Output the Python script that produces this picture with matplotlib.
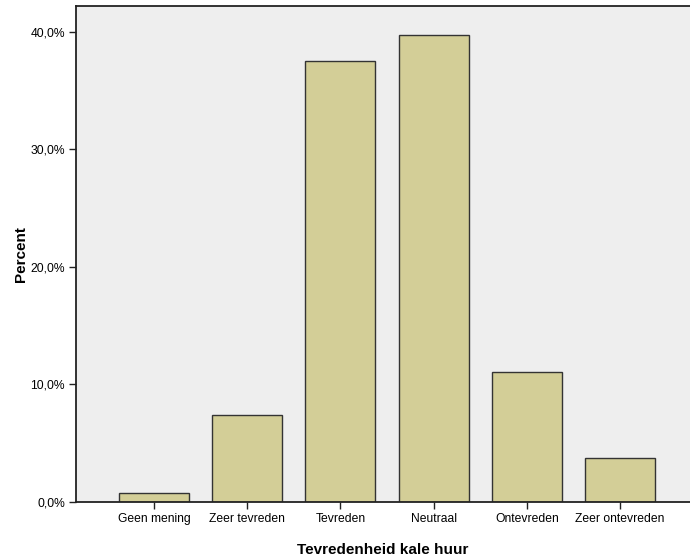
import matplotlib
matplotlib.use("Agg")
import matplotlib.pyplot as plt

categories = ["Geen mening", "Zeer tevreden", "Tevreden", "Neutraal", "Ontevreden", "Zeer ontevreden"]
percent = [0.8, 7.4, 37.5, 39.7, 11.1, 3.7]
yticks = [0, 10, 20, 30, 40]
ytick_labels = ["0,0%", "10,0%", "20,0%", "30,0%", "40,0%"]

plt.rcParams['font.family'] = ['Liberation Sans', 'DejaVu Sans']

fig = plt.figure(figsize=(6.9, 5.58), dpi=100)
ax = fig.add_axes([0.1101, 0.1004, 0.8899, 0.8888])
ax.set_facecolor("#EEEEEE")
x = list(range(len(categories)))
ax.bar(x, percent, width=0.75, color="#D3CE97", edgecolor="#333333", linewidth=1.0, zorder=2)
ax.set_xlim(-0.836, 5.75)
ax.set_ylim(0, 42.2)
ax.set_xticks(x)
ax.set_xticklabels(categories, fontsize=8.7)
ax.set_yticks(yticks)
ax.set_yticklabels(ytick_labels, fontsize=8.7)
ax.tick_params(axis='both', direction='out', length=5, width=1, color="#222222", pad=3)
for s in ["left", "bottom", "top"]:
    ax.spines[s].set_color("#222222")
    ax.spines[s].set_linewidth(1.3)
ax.spines["right"].set_visible(False)
ax.set_xlabel("Tevredenheid kale huur", fontsize=11, fontweight="bold", labelpad=13)
ax.set_ylabel("Percent", fontsize=11, fontweight="bold", labelpad=2)
fig.savefig("out.png", dpi=100)
